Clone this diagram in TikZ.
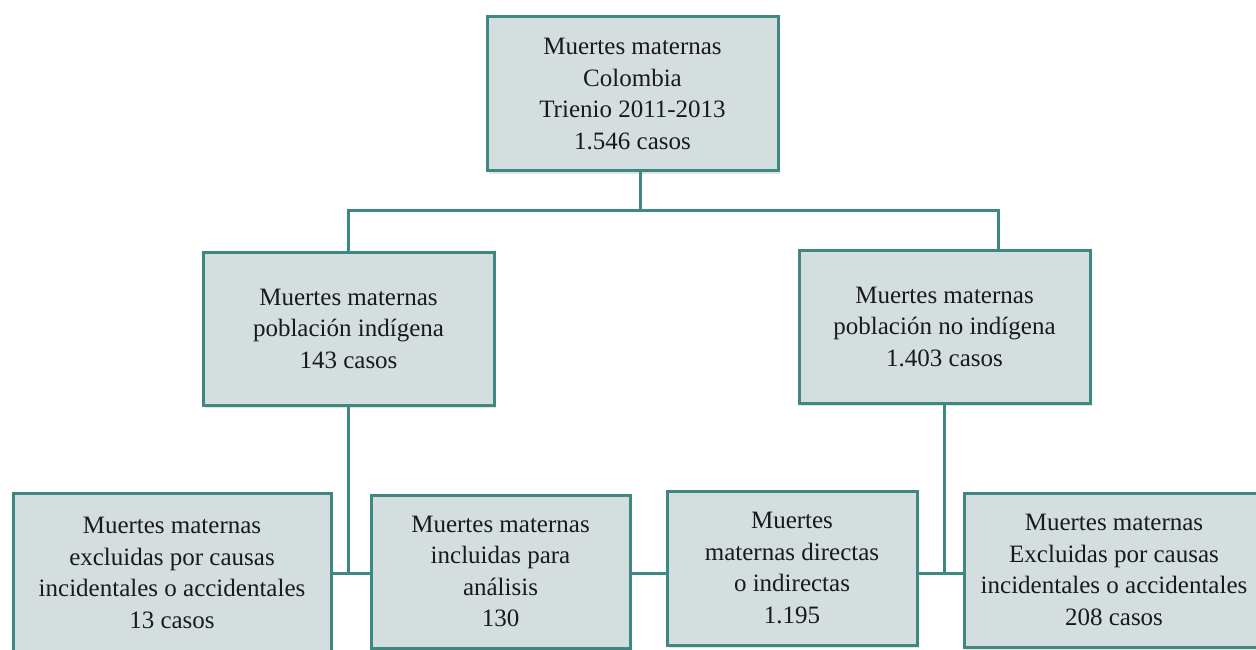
\documentclass[tikz,border=0pt]{standalone}
\usepackage{fontspec}
\setmainfont{Liberation Serif}
\usetikzlibrary{shadows}
\definecolor{teal1}{HTML}{3E8882}
\definecolor{boxfill}{HTML}{D5DEDF}
\definecolor{txt}{HTML}{1A1A1A}
\tikzset{
  box/.style={draw=teal1, line width=3pt, fill=boxfill, align=center,
    text=txt, font=\fontsize{25}{31.5}\selectfont, inner sep=0pt,
    drop shadow={opacity=0.22, shadow xshift=2pt, shadow yshift=-3pt}},
  conn/.style={draw=teal1, line width=3pt}
}
\begin{document}
\begin{tikzpicture}[x=1pt,y=-1pt]
\useasboundingbox (0,0) rectangle (1256,650);
\node[box, minimum width=291pt, minimum height=154pt] (top) at (632.5,94)
  {Muertes maternas\\Colombia\\Trienio 2011-2013\\1.546 casos};
\node[box, minimum width=291pt, minimum height=153pt] (left) at (348.5,328.5)
  {Muertes maternas\\población indígena\\143 casos};
\node[box, minimum width=291pt, minimum height=153pt] (right) at (944.5,326.5)
  {Muertes maternas\\población no indígena\\1.403 casos};
\node[box, minimum width=318pt, minimum height=160pt] (b1) at (172,573)
  {Muertes maternas\\excluidas por causas\\incidentales o accidentales\\13 casos};
\node[box, minimum width=259pt, minimum height=153pt] (b2) at (500.5,571.5)
  {Muertes maternas\\incluidas para\\análisis\\130};
\node[box, minimum width=250pt, minimum height=154pt] (b3) at (792,568)
  {Muertes\\maternas directas\\o indirectas\\1.195};
\node[box, minimum width=300pt, minimum height=154pt] (b4) at (1114,570)
  {Muertes maternas\\Excluidas por causas\\incidentales o accidentales\\208 casos};
% connectors
\coordinate (j) at (640,210);
\draw[conn] (top.south -| j) -- (j);
\draw[conn] (left.north) |- (j) -| ([xshift=53.5pt]right.north);
\draw[conn] (left.south) -- (left.south |- 0,573);
\draw[conn] (right.south) -- (right.south |- 0,573);
\draw[conn] (b1.east |- 0,573) -- (b2.west |- 0,573);
\draw[conn] (b2.east |- 0,573) -- (b3.west |- 0,573);
\draw[conn] (b3.east |- 0,573) -- (b4.west |- 0,573);
\end{tikzpicture}
\end{document}
